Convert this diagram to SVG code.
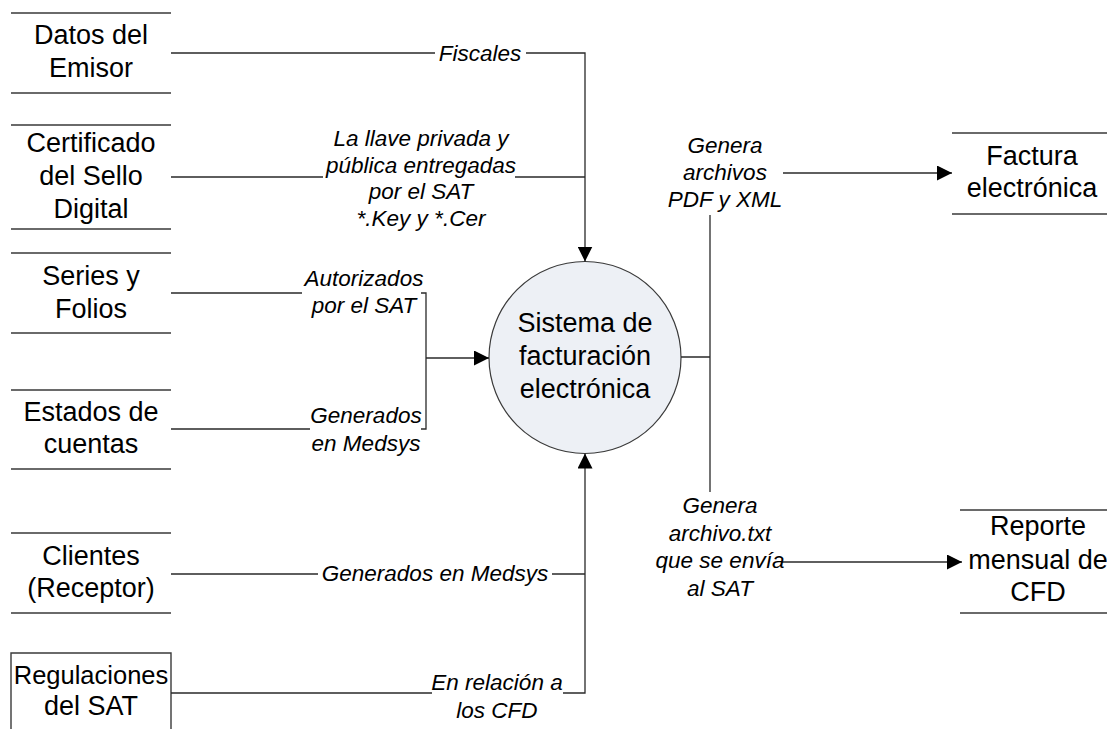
<svg xmlns="http://www.w3.org/2000/svg" width="1107" height="729" viewBox="0 0 1107 729">
<style>
.st{fill:none;stroke:#3a3a3a;stroke-width:1.4}
.cn{fill:none;stroke:#2a2a2a;stroke-width:1.3}
.nt{font-family:"Liberation Sans",Arial,sans-serif;font-size:27px;fill:#000;text-anchor:middle}
.lb{font-family:"Liberation Sans",Arial,sans-serif;font-size:22.5px;font-style:italic;fill:#000;text-anchor:middle}
</style>
<defs>
<marker id="ah" viewBox="0 0 15 15" refX="15" refY="7.5" markerWidth="15" markerHeight="15" markerUnits="userSpaceOnUse" orient="auto">
<path d="M0,0 L15,7.5 L0,15 z" fill="#000"/>
</marker>
</defs>
<rect width="1107" height="729" fill="#fff"/>

<g id="datos-emisor">
<path class="st" d="M11,13 H171 M11,93 H171"/>
<text class="nt" x="91" y="44">Datos del</text>
<text class="nt" x="91" y="77">Emisor</text>
</g>
<g id="certificado">
<path class="st" d="M11,125 H171 M11,229 H171"/>
<text class="nt" x="91" y="152">Certificado</text>
<text class="nt" x="91" y="185">del Sello</text>
<text class="nt" x="91" y="218">Digital</text>
</g>
<g id="series-folios">
<path class="st" d="M11,253 H171 M11,333 H171"/>
<text class="nt" x="91" y="285">Series y</text>
<text class="nt" x="91" y="318">Folios</text>
</g>
<g id="estados-cuentas">
<path class="st" d="M11,390 H171 M11,469 H171"/>
<text class="nt" x="91" y="421">Estados de</text>
<text class="nt" x="91" y="453">cuentas</text>
</g>
<g id="clientes">
<path class="st" d="M11,533 H171 M11,613 H171"/>
<text class="nt" x="91" y="565">Clientes</text>
<text class="nt" x="91" y="597">(Receptor)</text>
</g>
<g id="regulaciones">
<path class="st" d="M11,730 V653 H171 V730"/>
<text class="nt" x="91" y="684" style="font-size:25.5px">Regulaciones</text>
<text class="nt" x="91" y="715">del SAT</text>
</g>
<g id="sistema">
<circle cx="585" cy="357.5" r="96" fill="#edf0f5" stroke="#3a3a3a" stroke-width="1.2"/>
<text class="nt" x="585" y="332">Sistema de</text>
<text class="nt" x="585" y="365">facturación</text>
<text class="nt" x="585" y="398">electrónica</text>
</g>
<g id="factura">
<path class="st" d="M952,133 H1107 M952,214 H1107"/>
<text class="nt" x="1032" y="165">Factura</text>
<text class="nt" x="1032" y="197">electrónica</text>
</g>
<g id="reporte">
<path class="st" d="M960,510 H1107 M960,613 H1107"/>
<text class="nt" x="1038" y="535">Reporte</text>
<text class="nt" x="1038" y="569">mensual de</text>
<text class="nt" x="1038" y="601">CFD</text>
</g>

<g id="connectors">
<path class="cn" d="M171,53 H435 M526,53 H585 V261.5" marker-end="url(#ah)"/>
<path class="cn" d="M171,177 H323 M515,177 H585"/>
<path class="cn" d="M171,293 H302 M421,293 H426 V429 H421 M310,429 H171"/>
<path class="cn" d="M426,358 H489" marker-end="url(#ah)"/>
<path class="cn" d="M171,574 H318 M552,574 H585"/>
<path class="cn" d="M171,693 H432 M563,693 H585 V453.5" marker-end="url(#ah)"/>
<path class="cn" d="M681,357 H710 M710,215 V492"/>
<path class="cn" d="M783,173 H952" marker-end="url(#ah)"/>
<path class="cn" d="M782,562 H962" marker-end="url(#ah)"/>
<text class="lb" x="480" y="61">Fiscales</text>
<text class="lb" x="421" y="146">La llave privada y</text>
<text class="lb" x="421" y="173">pública entregadas</text>
<text class="lb" x="421" y="199">por el SAT</text>
<text class="lb" x="421" y="226">*.Key y *.Cer</text>
<text class="lb" x="364" y="286">Autorizados</text>
<text class="lb" x="364" y="313">por el SAT</text>
<text class="lb" x="366" y="423">Generados</text>
<text class="lb" x="366" y="451">en Medsys</text>
<text class="lb" x="435" y="581">Generados en Medsys</text>
<text class="lb" x="497" y="690">En relación a</text>
<text class="lb" x="497" y="718">los CFD</text>
<text class="lb" x="725" y="153">Genera</text>
<text class="lb" x="725" y="180">archivos</text>
<text class="lb" x="725" y="207">PDF y XML</text>
<text class="lb" x="720" y="513">Genera</text>
<text class="lb" x="720" y="541">archivo.txt</text>
<text class="lb" x="720" y="568">que se envía</text>
<text class="lb" x="720" y="596">al SAT</text>
</g>
</svg>
